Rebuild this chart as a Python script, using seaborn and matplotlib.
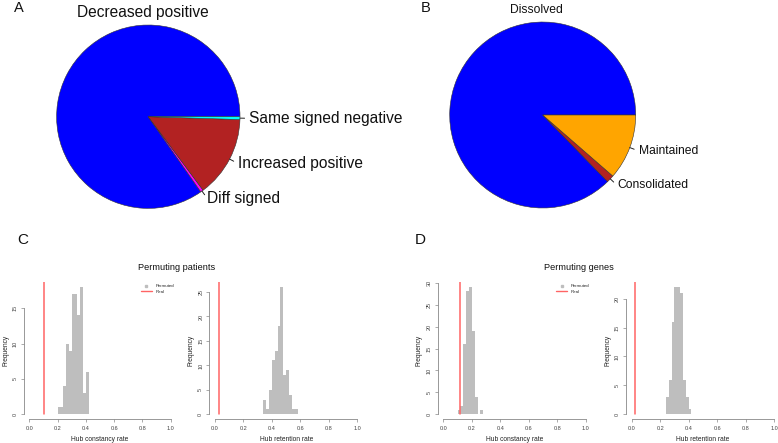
import numpy as np
import pandas as pd
import matplotlib
matplotlib.use("Agg")
import matplotlib.pyplot as plt
from matplotlib.lines import Line2D
import seaborn as sns

# pie A: change of co-expression sign
pie_a_labels = ["Decreased positive", "Diff signed", "Increased positive", "Same signed negative"]
pie_a_values = [84.7, 0.5, 14.3, 0.5]
pie_a_colors = ["#0000FF", "#FF00FF", "#B22222", "#00FFFF"]

# pie B: hub fate
pie_b_labels = ["Dissolved", "Consolidated", "Maintained"]
pie_b_values = [87.3, 1.3, 11.4]
pie_b_colors = ["#0000FF", "#B22222", "#FFA500"]

# permutation histograms (bin width 0.02)
c1_edges = [0.20, 0.22, 0.24, 0.26, 0.28, 0.30, 0.32, 0.34, 0.36, 0.38, 0.40, 0.42]
c1_counts = [1, 1, 4, 10, 9, 17, 17, 14, 18, 3, 6]
c1_real = 0.102
c2_edges = [0.34, 0.36, 0.38, 0.40, 0.42, 0.44, 0.46, 0.48, 0.50, 0.52, 0.54, 0.56, 0.58]
c2_counts = [3, 1, 5, 11, 13, 18, 26, 8, 9, 4, 1, 1]
c2_real = 0.026
d1_edges = [0.10, 0.12, 0.14, 0.16, 0.18, 0.20, 0.22, 0.24, 0.26, 0.28]
d1_counts = [1, 2, 16, 28, 29, 19, 4, 0, 1]
d1_real = 0.115
d2_edges = [0.24, 0.26, 0.28, 0.30, 0.32, 0.34, 0.36, 0.38, 0.40, 0.42]
d2_counts = [3, 6, 16, 22, 22, 21, 6, 3, 1]
d2_real = 0.023

sns.set_theme(style="white")
plt.rcParams["font.family"] = ["Liberation Sans", "DejaVu Sans"]

W, H = 778, 443
fig = plt.figure(figsize=(W / 100, H / 100), dpi=100)


def px_axes(l, t, w, h):
    return fig.add_axes([l / W, 1 - (t + h) / H, w / W, h / H])


def draw_pie(box, cx, cy, r, values, labels, colors, top_label, top_xy, fs):
    l, t, w, h = box
    ax = px_axes(l, t, w, h)
    shown = ["" if lab == top_label else lab for lab in labels]
    wedges, _ = ax.pie(values, labels=shown, colors=colors, startangle=0,
                       counterclock=True, labeldistance=1.1,
                       wedgeprops=dict(edgecolor="#333333", linewidth=0.4),
                       textprops=dict(fontsize=fs, color="#111111"))
    for wdg, lab in zip(wedges, labels):
        if lab == top_label:
            continue
        a = np.deg2rad((wdg.theta1 + wdg.theta2) / 2)
        ax.plot([np.cos(a), 1.05 * np.cos(a)], [np.sin(a), 1.05 * np.sin(a)],
                color="#222222", lw=0.7)
    ax.text((top_xy[0] - (l + cx)) / r, ((t + cy) - top_xy[1]) / r, top_label,
            ha="center", va="center", fontsize=fs, color="#111111")
    ax.set_aspect("auto")
    ax.set_xlim(-cx / r, (w - cx) / r)
    ax.set_ylim(-(h - cy) / r, cy / r)
    ax.axis("off")
    return ax


draw_pie((0, 0, 389, 225), 148.3, 116.7, 91.7, pie_a_values, pie_a_labels,
         pie_a_colors, "Decreased positive", (143, 12), 11.2)
draw_pie((389, 0, 389, 225), 153.7, 115, 93, pie_b_values, pie_b_labels,
         pie_b_colors, "Dissolved", (536, 10), 8.7)


def draw_hist(left, width, edges, counts, real, ytop, xlabel, legend=False):
    ax = px_axes(left, 282, width, 137.4)
    e = np.array(edges)
    df = pd.DataFrame({"rate": (e[:-1] + e[1:]) / 2, "n": counts})
    sns.histplot(data=df, x="rate", weights="n", bins=list(edges), ax=ax,
                 color="#BEBEBE", alpha=1, linewidth=0)
    ymax = max(counts) * 1.04
    ax.plot([real, real], [0, ymax], color="#FF6464", lw=1.1)
    ax.set_xlim(-0.04, 1.04)
    ax.set_ylim(-max(counts) * 0.04, ymax)
    xt = np.arange(0, 1.01, 0.2)
    ax.set_xticks(xt)
    ax.set_xticklabels([f"{v:.1f}" for v in xt])
    yt = np.arange(0, ytop + 1, 5)
    ax.set_yticks(yt)
    ax.set_yticklabels([str(v) for v in yt], rotation=90, va="center")
    for s in ["top", "right"]:
        ax.spines[s].set_visible(False)
    ax.spines["bottom"].set_bounds(0, 1)
    ax.spines["left"].set_bounds(0, ytop)
    for s in ["bottom", "left"]:
        ax.spines[s].set_color("#888888")
        ax.spines[s].set_linewidth(0.6)
    ax.tick_params(axis="both", which="both", bottom=True, left=True,
                   length=2.2, width=0.5, color="#888888", labelsize=4.0,
                   labelcolor="#444444", pad=2.2)
    ax.set_xlabel(xlabel, fontsize=4.8, color="#222222", va="center")
    ax.set_ylabel("Frequency", fontsize=4.8, color="#222222", va="center")
    ax.xaxis.set_label_coords(0.5, -0.143)
    ax.yaxis.set_label_coords(-0.118, 0.5)
    if legend:
        handles = [Line2D([], [], marker="s", ls="none", color="#BEBEBE", markersize=1.6),
                   Line2D([], [], color="#FF6464", lw=1.0)]
        ax.legend(handles, ["Permuted", "Real"], loc="upper right", fontsize=3.2,
                  frameon=False, handlelength=2.5, borderaxespad=0.1,
                  labelspacing=0.3, handletextpad=0.8)
    return ax


draw_hist(23.7, 152.7, c1_edges, c1_counts, c1_real, 15, "Hub constancy rate", legend=True)
draw_hist(209.3, 153.7, c2_edges, c2_counts, c2_real, 25, "Hub retention rate")
draw_hist(437.6, 153.9, d1_edges, d1_counts, d1_real, 30, "Hub constancy rate", legend=True)
draw_hist(626.0, 153.7, d2_edges, d2_counts, d2_real, 20, "Hub retention rate")

# titles and panel letters
fig.text(177 / W, 1 - 267 / H, "Permuting patients", ha="center", va="center",
         fontsize=6.6, color="#111111")
fig.text(579 / W, 1 - 267 / H, "Permuting genes", ha="center", va="center",
         fontsize=6.6, color="#111111")
for letter, x, y, fs in [("A", 19, 8, 10.5), ("B", 425.5, 8, 10.5),
                         ("C", 22.5, 240.5, 11), ("D", 420.5, 240.5, 11)]:
    fig.text(x / W, 1 - y / H, letter, ha="center", va="center", fontsize=fs,
             color="#111111")

fig.savefig("out.png", dpi=100)
